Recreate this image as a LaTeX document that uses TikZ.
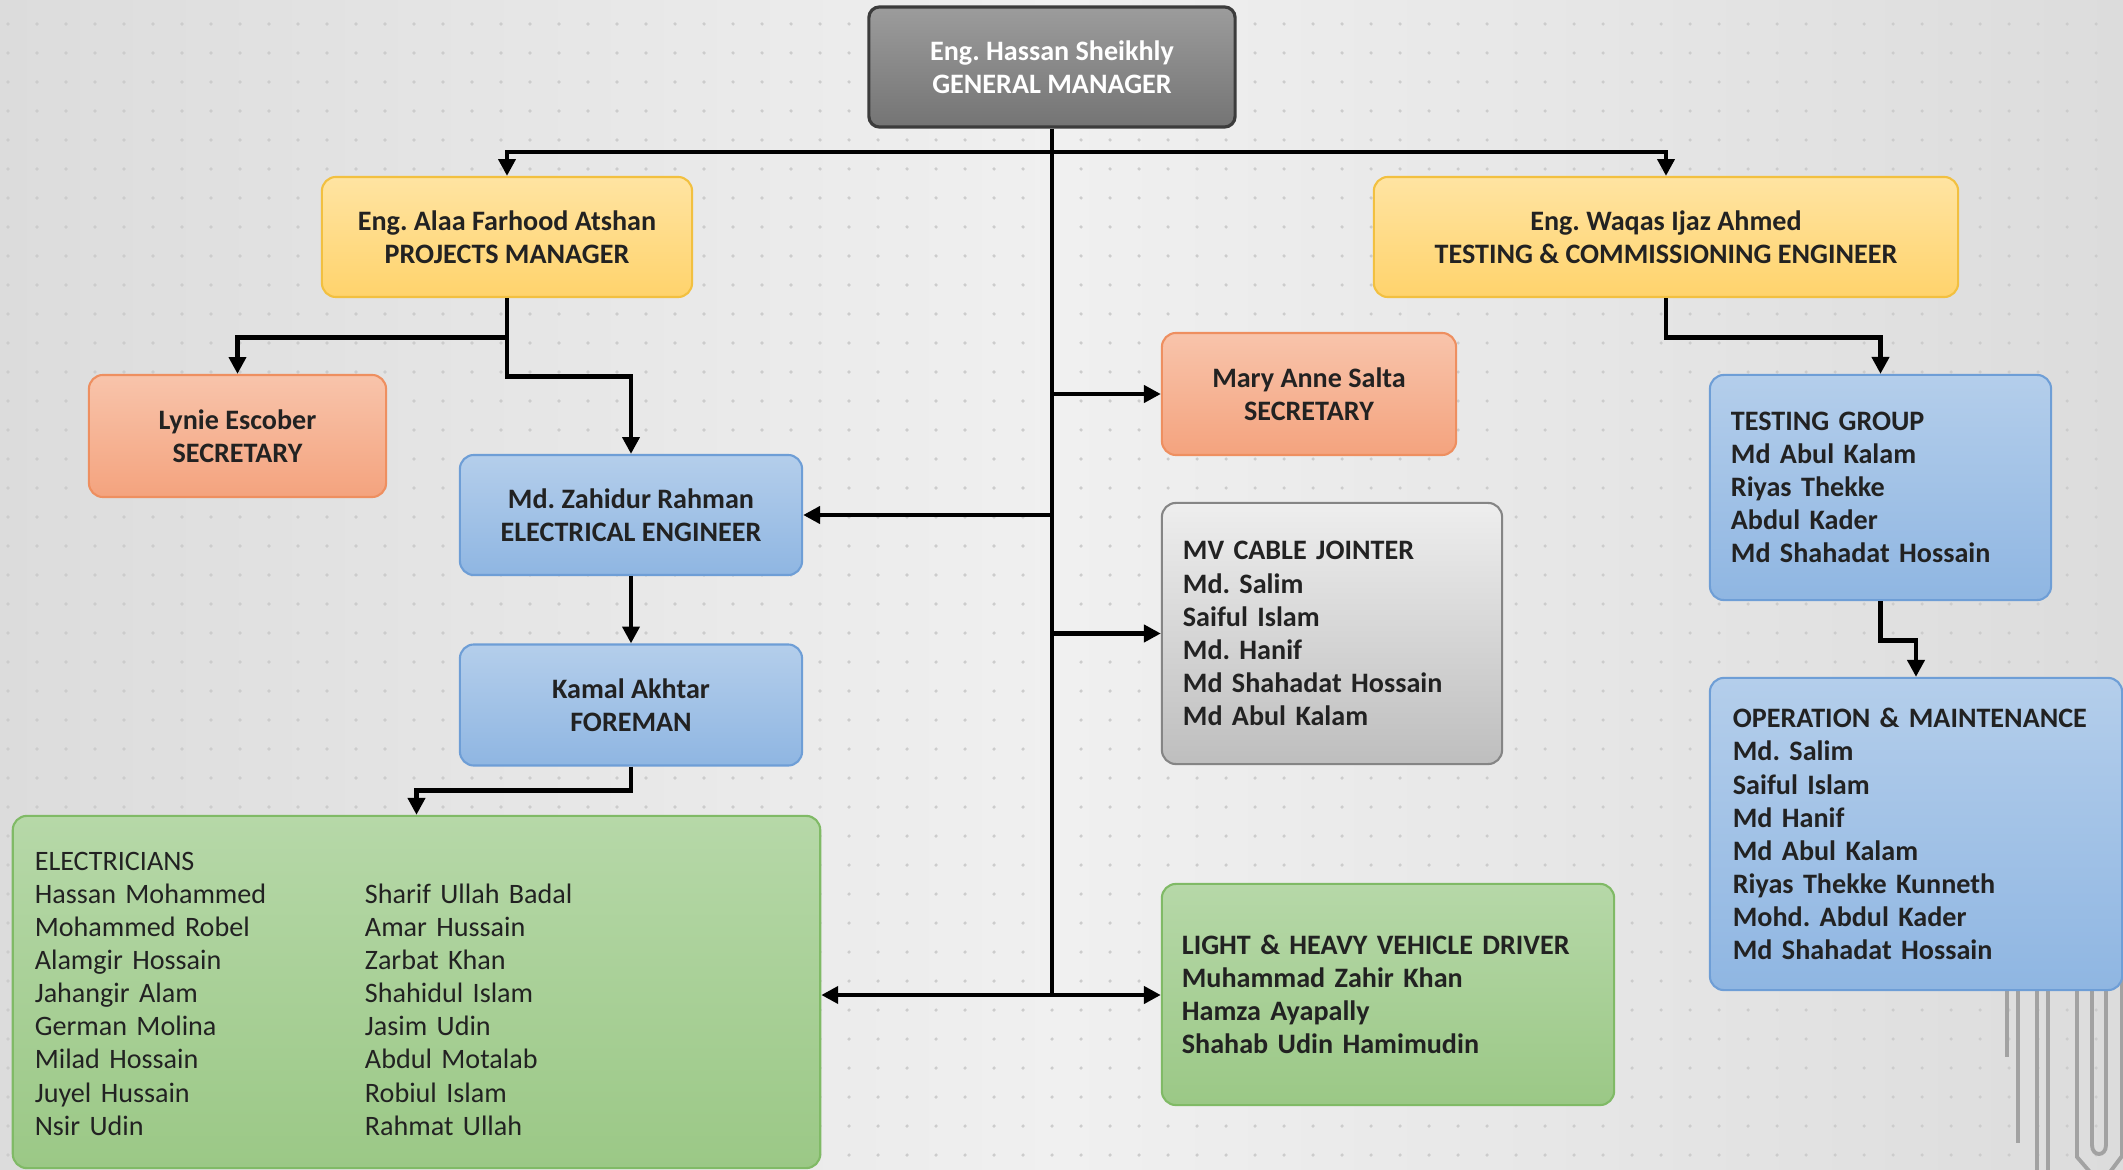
\documentclass[tikz,border=0pt]{standalone}
\usepackage{fontspec}
\setmainfont{Carlito}
\usetikzlibrary{arrows.meta}
\tikzset{
  box/.style={
    rounded corners=4pt,
    line width=0.6pt,
    inner sep=0pt,
    text=textdark,
    font={\fontsize{8pt}{9.4pt}\selectfont\bfseries\frenchspacing},
    align=center
  },
  box-gm/.style={box, draw=gmedge, line width=0.9pt, top color=gmtop, bottom color=gmbot, text=white, rounded corners=3pt},
  box-yellow/.style={box, draw=yeledge, top color=yeltop, bottom color=yelbot},
  box-salmon/.style={box, draw=saledge, top color=saltop, bottom color=salbot},
  box-blue/.style={box, draw=bluedge, top color=blutop, bottom color=blubot},
  box-green/.style={box, draw=grnedge, top color=grntop, bottom color=grnbot},
  box-silver/.style={box, draw=siledge, top color=siltop, bottom color=silbot},
  list/.style={align=left, inner ysep=0pt},
  link/.style={line width=1.4pt, draw=black},
  tri/.style={link, -{Triangle[length=4.8pt,width=4.8pt]}},
  tri-both/.style={link, {Triangle[length=4.8pt,width=4.8pt]}-{Triangle[length=4.8pt,width=4.8pt]}},
  deco/.style={draw=decogray, line width=1.1pt}
}
\definecolor{textdark}{HTML}{222222}
\definecolor{gmedge}{HTML}{3C3C3C}
\definecolor{gmtop}{HTML}{9C9C9C}
\definecolor{gmbot}{HTML}{747474}
\definecolor{yeledge}{HTML}{F2C040}
\definecolor{yeltop}{HTML}{FFE4A2}
\definecolor{yelbot}{HTML}{FFD36C}
\definecolor{saledge}{HTML}{EE8F60}
\definecolor{saltop}{HTML}{F8C4AB}
\definecolor{salbot}{HTML}{F4A37E}
\definecolor{bluedge}{HTML}{6E9ED6}
\definecolor{blutop}{HTML}{B4CEEB}
\definecolor{blubot}{HTML}{8FB6E2}
\definecolor{grnedge}{HTML}{80BA66}
\definecolor{grntop}{HTML}{B6D8A8}
\definecolor{grnbot}{HTML}{9BC886}
\definecolor{siledge}{HTML}{858585}
\definecolor{siltop}{HTML}{EEEEEE}
\definecolor{silbot}{HTML}{BEBEBE}
\definecolor{bgedge}{HTML}{DCDCDC}
\definecolor{bgmid}{HTML}{F0F0F0}
\definecolor{dotgray}{HTML}{CCCCCC}
\definecolor{decogray}{HTML}{A2A2A2}

\begin{document}
\begin{tikzpicture}[x=0.01cm, y=-0.01cm]
  \useasboundingbox (0,0) rectangle (2123,1170);
  % slide background
  \shade[left color=bgedge, right color=bgedge, middle color=bgmid] (0,0) rectangle (2123,1170);
  \foreach \i in {0,...,72}
    \foreach \j in {0,...,39}
      \fill[dotgray] (8+29*\i, 24+29*\j) circle (0.5pt);
  % theme lines, bottom right
  \draw[deco] (2007,960) -- (2007,1057);
  \draw[deco] (2018,960) -- (2018,1143);
  \draw[deco] (2037,960) -- (2037,1172);
  \draw[deco] (2048,960) -- (2048,1172);
  \draw[deco] (2077,960) -- (2077,1157) -- (2090,1172);
  \draw[deco] (2092,960) -- (2092,1145) .. controls (2092,1157) and (2106,1157) .. (2106,1145) -- (2106,960);
  \draw[deco] (2122,960) -- (2122,1156) -- (2110,1172);

  % Management
  \node[box-gm, minimum width=3.66cm, minimum height=1.2cm] (gm) at (1052,67) {Eng. Hassan Sheikhly\\GENERAL MANAGER};
  \node[box-yellow, minimum width=3.70cm, minimum height=1.2cm] (pm) at (507,237) {Eng. Alaa Farhood Atshan\\PROJECTS MANAGER};
  \node[box-yellow, minimum width=5.84cm, minimum height=1.2cm] (tce) at (1666,237) {Eng. Waqas Ijaz Ahmed\\TESTING \& COMMISSIONING ENGINEER};
  % Secretaries
  \node[box-salmon, minimum width=2.97cm, minimum height=1.22cm] (secl) at (237.5,436) {Lynie Escober\\SECRETARY};
  \node[box-salmon, minimum width=2.94cm, minimum height=1.22cm] (secr) at (1309,394) {Mary Anne Salta\\SECRETARY};
  % Site staff
  \node[box-blue, minimum width=3.42cm, minimum height=1.2cm] (ee) at (631,515) {Md. Zahidur Rahman\\ELECTRICAL ENGINEER};
  \node[box-blue, minimum width=3.42cm, minimum height=1.21cm] (fm) at (631,705) {Kamal Akhtar\\FOREMAN};
  \node[box-green, list, font={\fontsize{8pt}{9.4pt}\selectfont\mdseries}, inner xsep=0.22cm, text width=7.63cm, minimum height=3.52cm] (elec) at (416.5,992) {%
    \begin{tabular}{@{}p{3.3cm}@{}l@{}}
      \rule{0pt}{9pt}ELECTRICIANS & \\
      Hassan Mohammed & Sharif Ullah Badal\\
      Mohammed Robel & Amar Hussain\\
      Alamgir Hossain & Zarbat Khan\\
      Jahangir Alam & Shahidul Islam\\
      German Molina & Jasim Udin\\
      Milad Hossain & Abdul Motalab\\
      Juyel Hussain & Robiul Islam\\
      Nsir Udin & Rahmat Ullah
    \end{tabular}};
  \node[box-silver, list, inner xsep=0.21cm, text width=2.98cm, minimum height=2.61cm] (mv) at (1332,633.5) {MV CABLE JOINTER\\Md. Salim\\Saiful Islam\\Md. Hanif\\Md Shahadat Hossain\\Md Abul Kalam};
  \node[box-green, list, inner xsep=0.20cm, text width=4.12cm, minimum height=2.21cm] (drv) at (1388,994.5) {LIGHT \& HEAVY VEHICLE DRIVER\\Muhammad Zahir Khan\\Hamza Ayapally\\Shahab Udin Hamimudin};
  % Testing side
  \node[box-blue, list, inner xsep=0.21cm, text width=2.99cm, minimum height=2.25cm] (tg) at (1880.5,487.5) {TESTING GROUP\\Md Abul Kalam\\Riyas Thekke\\Abdul Kader\\Md Shahadat Hossain};
  \node[box-blue, list, inner xsep=0.23cm, text width=3.66cm, minimum height=3.12cm] (om) at (1916,834) {OPERATION \& MAINTENANCE\\Md. Salim\\Saiful Islam\\Md Hanif\\Md Abul Kalam\\Riyas Thekke Kunneth\\Mohd. Abdul Kader\\Md Shahadat Hossain};

  % Connectors
  \coordinate (bus) at (1052,152);
  \coordinate (hub) at (1052,995);
  \draw[link] (gm.south) -- (hub);
  \draw[tri] (bus) -| (pm.north);
  \draw[tri] (bus) -| (tce.north);
  \draw[tri] (gm.south |- secr.west) -- (secr.west);
  \draw[tri] (gm.south |- ee.east) -- (ee.east);
  \draw[tri] (gm.south |- mv.west) -- (mv.west);
  \draw[tri-both] (elec.east |- hub) -- (drv.west |- hub);
  \draw[tri] (pm.south) -- ++(0,39) -| (secl.north);
  \draw[tri] (pm.south) -- ++(0,78) -| (ee.north);
  \draw[tri] (ee.south) -- (fm.north);
  \draw[tri] (fm.south) -- ++(0,24) -| (elec.north);
  \draw[tri] (tce.south) -- ++(0,39) -| (tg.north);
  \draw[tri] (tg.south) -- ++(0,39) -| (om.north);
\end{tikzpicture}
\end{document}
